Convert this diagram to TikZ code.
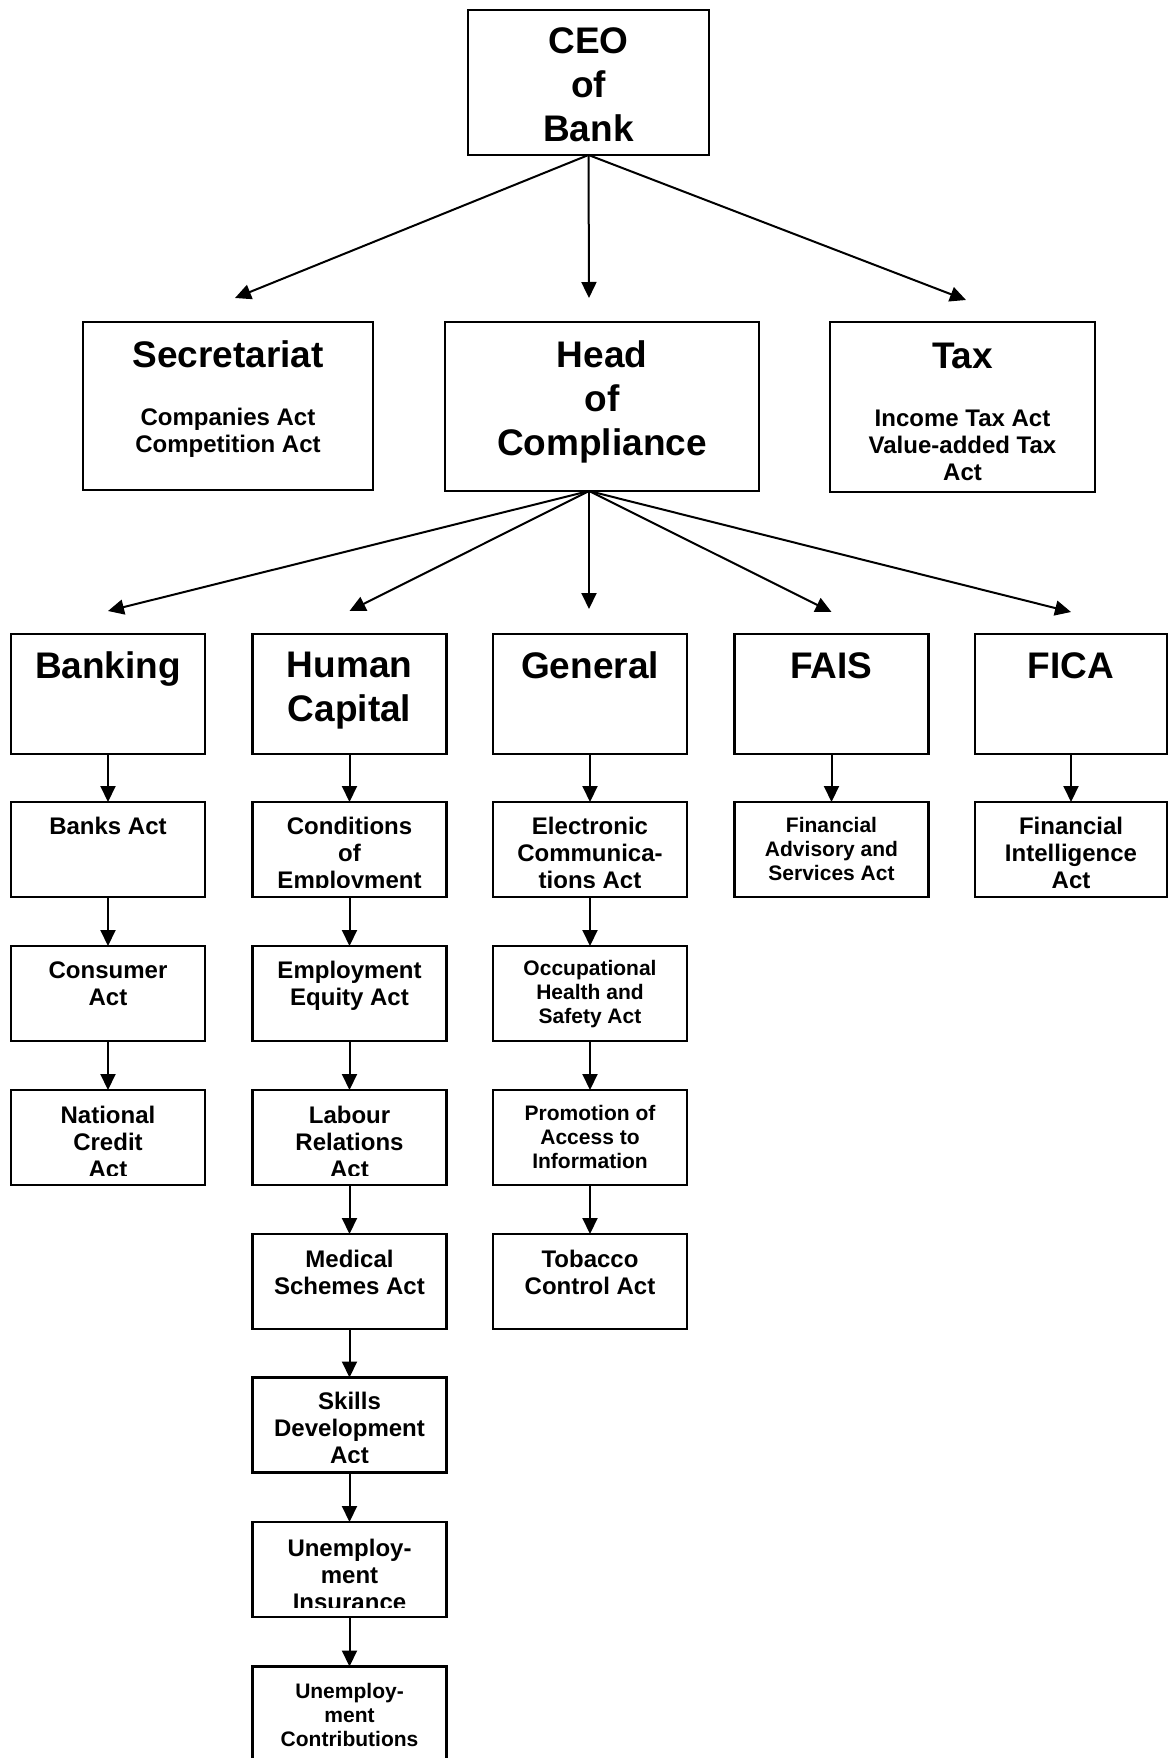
\documentclass[tikz,border=0pt]{standalone}
\usepackage{fontspec}
\setmainfont{Liberation Sans}
\usetikzlibrary{arrows.meta}
\begin{document}
\begin{tikzpicture}[x=1pt,y=-1pt,
  boxst/.style={draw, line width=2.4pt, inner sep=0pt, outer sep=0pt},
  topbox/.style={boxst, minimum width=194pt, minimum height=120pt},
  actbox/.style={boxst, minimum width=194pt, minimum height=95pt},
  tbig/.style={font=\fontsize{37}{44}\selectfont\bfseries, align=center, inner sep=0pt, anchor=base},
  tmid/.style={font=\fontsize{24}{27}\selectfont\bfseries, align=center, inner sep=0pt, anchor=base},
  tsmall/.style={font=\fontsize{21}{24}\selectfont\bfseries, align=center, inner sep=0pt, anchor=base},
  arr/.style={-{Triangle[length=16pt,width=15pt]}, line width=2pt},
  cutband/.style={fill=white, draw=none}
]
\clip (0,0) rectangle (1168,1758);
\fill[white] (0,0) rectangle (1168,1758);

% (text nodes are anchored at the baseline of their LAST line)
% ---- top levels
\node[boxst, minimum width=241pt, minimum height=145pt] (ceo) at (588.5,82.5) {};
\node[boxst, minimum width=290pt, minimum height=168pt] (sec) at (228,406) {};
\node[boxst, minimum width=314pt, minimum height=169pt] (hoc) at (602,406.5) {};
\node[boxst, minimum width=265pt, minimum height=170pt] (tax) at (962.5,407) {};

\node[tbig] (ceoT) at ([yshift=-132pt]ceo.north) {CEO\\of\\Bank};
\node[tbig] (secT) at ([yshift=-45pt]sec.north) {Secretariat};
\node[tmid] (secS) at ([yshift=-130pt]sec.north) {Companies Act\\Competition Act};
\node[tbig] (hocT) at ([yshift=-133pt]hoc.north) {Head\\of\\Compliance};
\node[tbig] (taxT) at ([yshift=-46pt]tax.north) {Tax};
\node[tmid] (taxS) at ([yshift=-158pt]tax.north) {Income Tax Act\\Value-added Tax\\Act};

% ---- second level
\node[topbox] (bank) at (108,694) {};
\node[topbox] (hc)   at (349.5,694) {};
\node[topbox] (gen)  at (590,694) {};
\node[topbox] (fais) at (831.5,694) {};
\node[topbox, minimum width=192pt] (fica) at (1071,694) {};

\node[tbig] (bankT) at ([yshift=-44pt]bank.north) {Banking};
\node[tbig] (hcT)   at ([yshift=-87pt]hc.north) {Human\\Capital};
\node[tbig] (genT)  at ([yshift=-44pt]gen.north) {General};
\node[tbig] (faisT) at ([yshift=-44pt]fais.north) {FAIS};
\node[tbig] (ficaT) at ([yshift=-44pt]fica.north) {FICA};

% ---- act boxes
% Banking column
\node[actbox] (banks)  at (108,849.5) {};
\node[actbox] (cons)   at (108,993.5) {};
\node[actbox] (natc)   at (108,1137.5) {};
% Human Capital column
\node[actbox] (cond)   at (349.5,849.5) {};
\node[actbox] (equity) at (349.5,993.5) {};
\node[actbox] (labour) at (349.5,1137.5) {};
\node[actbox] (medic)  at (349.5,1281.5) {};
\node[actbox] (skills) at (349.5,1425) {};
\node[actbox] (uins)   at (349.5,1569.5) {};
\node[actbox] (ucon)   at (349.5,1714) {};
% General column
\node[actbox] (elec)   at (590,849.5) {};
\node[actbox] (occ)    at (590,993.5) {};
\node[actbox] (paia)   at (590,1137.5) {};
\node[actbox] (tob)    at (590,1281.5) {};
% FAIS / FICA
\node[actbox] (fadv)   at (831.5,849.5) {};
\node[actbox, minimum width=192pt] (fint) at (1071,849.5) {};

\node[tmid] (banksT)  at ([yshift=-32pt]banks.north)  {Banks Act};
\node[tmid] (consT)   at ([yshift=-59pt]cons.north)   {Consumer\\Act};
\node[tmid] (natcT)   at ([yshift=-87pt]natc.north)   {National\\Credit\\Act};
\node[tmid] (condT)   at ([yshift=-86pt]cond.north)   {Conditions\\of\\Employment};
\node[tmid] (equityT) at ([yshift=-59pt]equity.north) {Employment\\Equity Act};
\node[tmid] (labourT) at ([yshift=-87pt]labour.north) {Labour\\Relations\\Act};
\node[tmid] (medicT)  at ([yshift=-60pt]medic.north)  {Medical\\Schemes Act};
\node[tmid] (skillsT) at ([yshift=-86pt]skills.north) {Skills\\Development\\Act};
\node[tmid] (uinsT)   at ([yshift=-88pt]uins.north)   {Unemploy-\\ment\\Insurance};
\node[tsmall] (uconT) at ([yshift=-80pt]ucon.north)   {Unemploy-\\ment\\Contributions};
\node[tmid] (elecT)   at ([yshift=-86pt]elec.north)   {Electronic\\Communica-\\tions Act};
\node[tsmall] (occT)  at ([yshift=-77pt]occ.north)    {Occupational\\Health and\\Safety Act};
\node[tsmall] (paiaT) at ([yshift=-78pt]paia.north)   {Promotion of\\Access to\\Information};
\node[tmid] (tobT)    at ([yshift=-60pt]tob.north)    {Tobacco\\Control Act};
\node[tsmall] (fadvT) at ([yshift=-78pt]fadv.north)   {Financial\\Advisory and\\Services Act};
\node[tmid] (fintT)   at ([yshift=-86pt]fint.north)   {Financial\\Intelligence\\Act};

% text cut off at the bottom of the boxes
\foreach \n in {cond,elec,natc,labour,skills,uins}
  \fill[cutband] ([shift={(1.3pt,1.3pt)}]\n.south west) rectangle ([shift={(-1.3pt,9.5pt)}]\n.south east);

% ---- connectors
\coordinate (tSec) at (235,298);
\coordinate (tHoc) at (589,298);
\coordinate (tTax) at (966,300);
\draw[arr] (ceo.south) -- (tSec);
\draw[arr] (ceo.south) -- (tHoc);
\draw[arr] (ceo.south) -- (tTax);

\coordinate (hocOut) at ([xshift=-13pt]hoc.south);
\coordinate (tBank) at ([yshift=23pt]bank.north);
\coordinate (tHc)   at ([yshift=23pt]hc.north);
\coordinate (tGen)  at ([xshift=-1pt,yshift=25pt]gen.north);
\coordinate (tFais) at ([yshift=22pt]fais.north);
\coordinate (tFica) at ([yshift=22pt]fica.north);
\foreach \t in {tBank,tHc,tGen,tFais,tFica}
  \draw[arr] (hocOut) -- (\t);

\draw[arr] (bank.south) -- (banks.north);
\draw[arr] (banks.south) -- (cons.north);
\draw[arr] (cons.south) -- (natc.north);

\draw[arr] (hc.south) -- (cond.north);
\draw[arr] (cond.south) -- (equity.north);
\draw[arr] (equity.south) -- (labour.north);
\draw[arr] (labour.south) -- (medic.north);
\draw[arr] (medic.south) -- (skills.north);
\draw[arr] (skills.south) -- (uins.north);
\draw[arr] (uins.south) -- (ucon.north);

\draw[arr] (gen.south) -- (elec.north);
\draw[arr] (elec.south) -- (occ.north);
\draw[arr] (occ.south) -- (paia.north);
\draw[arr] (paia.south) -- (tob.north);

\draw[arr] (fais.south) -- (fadv.north);
\draw[arr] (fica.south) -- (fint.north);
\end{tikzpicture}
\end{document}
